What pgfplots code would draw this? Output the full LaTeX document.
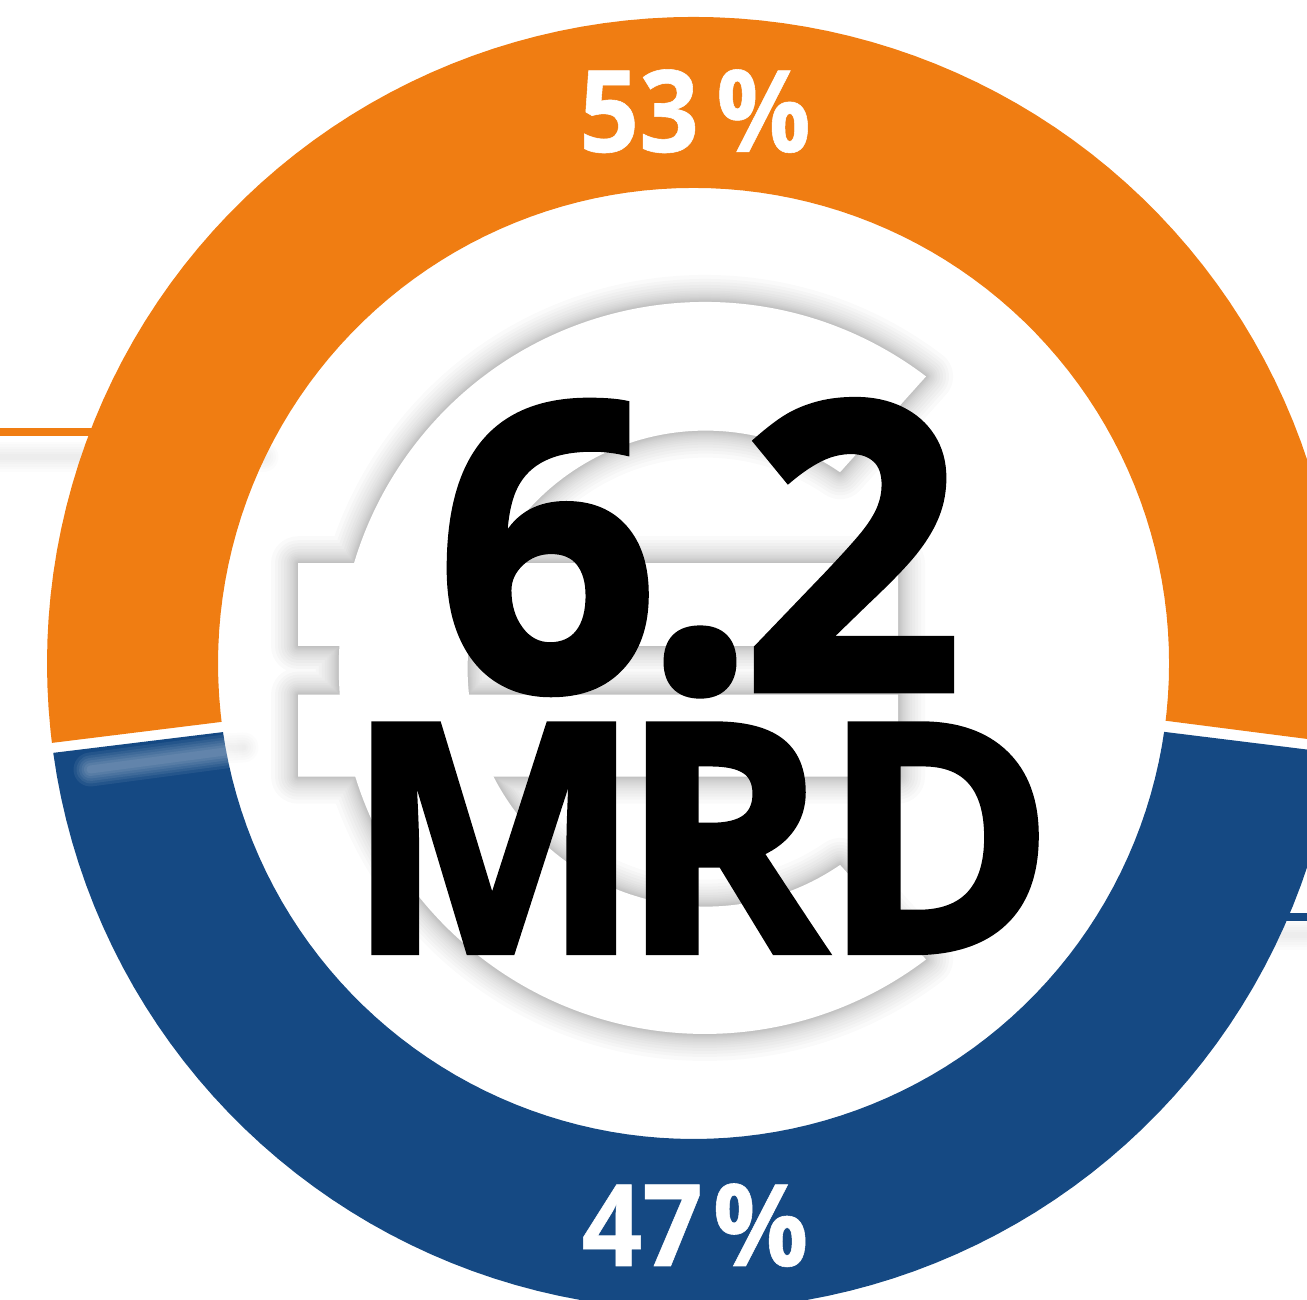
\documentclass[border=0pt]{standalone}
\usepackage{fontspec}
\usepackage{pgfplots}
\pgfplotsset{compat=1.18}
\setmainfont{Open Sans}
\newfontfamily\blk[BoldFeatures={FakeBold=1.7}]{Open Sans}
\newfontfamily\bld[BoldFeatures={FakeBold=0.5}]{Open Sans}
\definecolor{ringorange}{RGB}{240,125,18}
\definecolor{ringblue}{RGB}{21,73,131}
% euro sign behind the figures: centre (11,-4.5), radii 366 and 238
\def\europath{
  (axis cs:232.5,287) arc[start angle=52.8,end angle=307.2,radius=366pt]
   -- (axis cs:146.5,-201.5) arc[start angle=304.4,end angle=55.6,radius=238pt] -- cycle
}
\def\barpath{
  (axis cs:-395.5,100.2) rectangle (axis cs:204.5,17.5)
  (axis cs:-395.5,-31.2) rectangle (axis cs:204.5,-113.2)
}
\begin{document}
\begin{tikzpicture}
\useasboundingbox (0,0) rectangle (1307pt,1300pt);
\begin{axis}[at={(0,0)},anchor=south west,scale only axis,width=1307pt,height=1300pt,
  xmin=-693.5,xmax=613.5,ymin=-636.5,ymax=663.5,hide axis,clip=true]
% faint shadows of the leader lines
\pgfplotsinvokeforeach{30,25,20,15,10,6}{
  \addplot[draw=black,opacity=0.011,line width=#1pt,line cap=round] coordinates {(-720,206.5) (-430,206.5)};
  \addplot[draw=black,opacity=0.011,line width=#1pt] coordinates {(580,-271.5) (613.5,-271.5)};
  \addplot[draw=black,opacity=0.011,line width=#1pt,line cap=round] coordinates {(-490,-86) (-450,-84)};
}
% leader lines
\addplot[draw=ringorange,line width=8pt] coordinates {(-693.5,231.5) (-590,231.5)};
\addplot[draw=ringblue,line width=8pt] coordinates {(590,-254) (613.5,-254)};
% ring: angle (deg), radius in polar data coordinates
\addplot[fill=ringorange,draw=none,data cs=polar] coordinates {
(-7.03,646.5)(-6,646.5)(-4,646.5)(-2,646.5)(0,646.5)(2,646.5)(4,646.5)(6,646.5)(8,646.5)(10,646.5)(12,646.5)(14,646.5)(16,646.5)(18,646.5)(20,646.5)(22,646.5)(24,646.5)(26,646.5)(28,646.5)(30,646.5)(32,646.5)(34,646.5)(36,646.5)(38,646.5)(40,646.5)(42,646.5)(44,646.5)(46,646.5)(48,646.5)(50,646.5)(52,646.5)(54,646.5)(56,646.5)(58,646.5)(60,646.5)(62,646.5)(64,646.5)(66,646.5)(68,646.5)(70,646.5)(72,646.5)(74,646.5)(76,646.5)(78,646.5)(80,646.5)(82,646.5)(84,646.5)(86,646.5)(88,646.5)(90,646.5)(92,646.5)(94,646.5)(96,646.5)(98,646.5)(100,646.5)(102,646.5)(104,646.5)(106,646.5)(108,646.5)(110,646.5)(112,646.5)(114,646.5)(116,646.5)(118,646.5)(120,646.5)(122,646.5)(124,646.5)(126,646.5)(128,646.5)(130,646.5)(132,646.5)(134,646.5)(136,646.5)(138,646.5)(140,646.5)(142,646.5)(144,646.5)(146,646.5)(148,646.5)(150,646.5)(152,646.5)(154,646.5)(156,646.5)(158,646.5)(160,646.5)(162,646.5)(164,646.5)(166,646.5)(168,646.5)(170,646.5)(172,646.5)(174,646.5)(176,646.5)(178,646.5)(180,646.5)(182,646.5)(184,646.5)(186,646.5)(187.06,646.5)
(187.06,475.5)(186,475.5)(184,475.5)(182,475.5)(180,475.5)(178,475.5)(176,475.5)(174,475.5)(172,475.5)(170,475.5)(168,475.5)(166,475.5)(164,475.5)(162,475.5)(160,475.5)(158,475.5)(156,475.5)(154,475.5)(152,475.5)(150,475.5)(148,475.5)(146,475.5)(144,475.5)(142,475.5)(140,475.5)(138,475.5)(136,475.5)(134,475.5)(132,475.5)(130,475.5)(128,475.5)(126,475.5)(124,475.5)(122,475.5)(120,475.5)(118,475.5)(116,475.5)(114,475.5)(112,475.5)(110,475.5)(108,475.5)(106,475.5)(104,475.5)(102,475.5)(100,475.5)(98,475.5)(96,475.5)(94,475.5)(92,475.5)(90,475.5)(88,475.5)(86,475.5)(84,475.5)(82,475.5)(80,475.5)(78,475.5)(76,475.5)(74,475.5)(72,475.5)(70,475.5)(68,475.5)(66,475.5)(64,475.5)(62,475.5)(60,475.5)(58,475.5)(56,475.5)(54,475.5)(52,475.5)(50,475.5)(48,475.5)(46,475.5)(44,475.5)(42,475.5)(40,475.5)(38,475.5)(36,475.5)(34,475.5)(32,475.5)(30,475.5)(28,475.5)(26,475.5)(24,475.5)(22,475.5)(20,475.5)(18,475.5)(16,475.5)(14,475.5)(12,475.5)(10,475.5)(8,475.5)(6,475.5)(4,475.5)(2,475.5)(0,475.5)(-2,475.5)(-4,475.5)(-6,475.5)(-6.92,475.5)
} --cycle;
\addplot[fill=ringblue,draw=none,data cs=polar] coordinates {
(187.95,646.5)(190,646.5)(192,646.5)(194,646.5)(196,646.5)(198,646.5)(200,646.5)(202,646.5)(204,646.5)(206,646.5)(208,646.5)(210,646.5)(212,646.5)(214,646.5)(216,646.5)(218,646.5)(220,646.5)(222,646.5)(224,646.5)(226,646.5)(228,646.5)(230,646.5)(232,646.5)(234,646.5)(236,646.5)(238,646.5)(240,646.5)(242,646.5)(244,646.5)(246,646.5)(248,646.5)(250,646.5)(252,646.5)(254,646.5)(256,646.5)(258,646.5)(260,646.5)(262,646.5)(264,646.5)(266,646.5)(268,646.5)(270,646.5)(272,646.5)(274,646.5)(276,646.5)(278,646.5)(280,646.5)(282,646.5)(284,646.5)(286,646.5)(288,646.5)(290,646.5)(292,646.5)(294,646.5)(296,646.5)(298,646.5)(300,646.5)(302,646.5)(304,646.5)(306,646.5)(308,646.5)(310,646.5)(312,646.5)(314,646.5)(316,646.5)(318,646.5)(320,646.5)(322,646.5)(324,646.5)(326,646.5)(328,646.5)(330,646.5)(332,646.5)(334,646.5)(336,646.5)(338,646.5)(340,646.5)(342,646.5)(344,646.5)(346,646.5)(348,646.5)(350,646.5)(352.05,646.5)
(351.73,475.5)(350,475.5)(348,475.5)(346,475.5)(344,475.5)(342,475.5)(340,475.5)(338,475.5)(336,475.5)(334,475.5)(332,475.5)(330,475.5)(328,475.5)(326,475.5)(324,475.5)(322,475.5)(320,475.5)(318,475.5)(316,475.5)(314,475.5)(312,475.5)(310,475.5)(308,475.5)(306,475.5)(304,475.5)(302,475.5)(300,475.5)(298,475.5)(296,475.5)(294,475.5)(292,475.5)(290,475.5)(288,475.5)(286,475.5)(284,475.5)(282,475.5)(280,475.5)(278,475.5)(276,475.5)(274,475.5)(272,475.5)(270,475.5)(268,475.5)(266,475.5)(264,475.5)(262,475.5)(260,475.5)(258,475.5)(256,475.5)(254,475.5)(252,475.5)(250,475.5)(248,475.5)(246,475.5)(244,475.5)(242,475.5)(240,475.5)(238,475.5)(236,475.5)(234,475.5)(232,475.5)(230,475.5)(228,475.5)(226,475.5)(224,475.5)(222,475.5)(220,475.5)(218,475.5)(216,475.5)(214,475.5)(212,475.5)(210,475.5)(208,475.5)(206,475.5)(204,475.5)(202,475.5)(200,475.5)(198,475.5)(196,475.5)(194,475.5)(192,475.5)(190,475.5)(188.3,475.5)
} --cycle;
% light smudge on the blue ring
\pgfplotsinvokeforeach{34,28,23,18,13,8}{
  \addplot[draw=white,opacity=0.065,line width=#1pt,line cap=round] coordinates {(-603,-106) (-468,-88)};
}
\pgfplotsinvokeforeach{54,46,40,34,28,23,19,16,13,10,8,6,4,2}{
  \draw[black,opacity=0.021,line width=#1pt,line join=round] \europath \barpath;
}
\fill[white] \europath;
\fill[white] \barpath;
% figures
\node[anchor=base,inner sep=0pt,text=black,font=\blk\bfseries\fontsize{400}{400}\selectfont] at (axis cs:6,-26.5) {\scalebox{.97}[1]{6\kern-14pt.\kern-14pt2}};
\node[anchor=base,inner sep=0pt,text=black,font=\blk\bfseries\fontsize{320}{320}\selectfont] at (axis cs:6.5,-289) {\scalebox{.98}[1]{M\kern-22ptR\kern-5ptD}};
\node[anchor=base,inner sep=0pt,text=white,font=\bld\bfseries\fontsize{114}{114}\selectfont] at (axis cs:1.5,511.5) {\scalebox{.92}[1]{53\,\%}};
\node[anchor=base,inner sep=0pt,text=white,font=\bld\bfseries\fontsize{114}{114}\selectfont] at (axis cs:1.5,-602.5) {\scalebox{.93}[1]{47\kern-8pt\,\%}};
\end{axis}
\end{tikzpicture}
\end{document}
